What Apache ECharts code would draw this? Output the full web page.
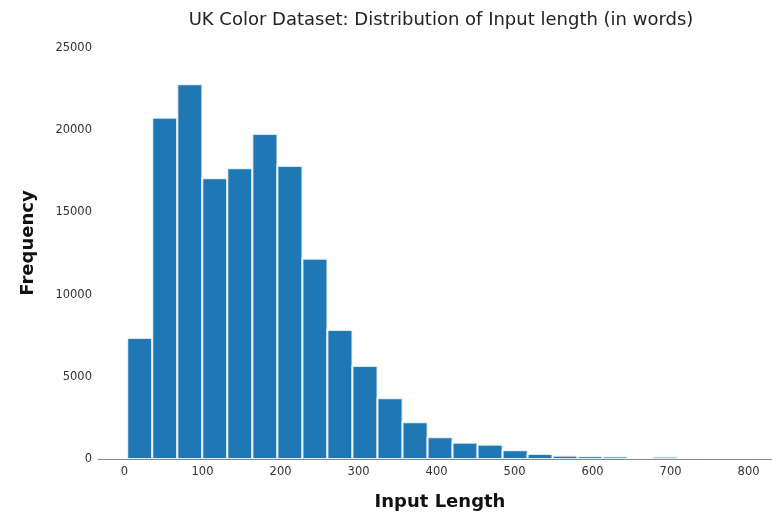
<!DOCTYPE html>
<html>
<head>
<meta charset="utf-8">
<script src="https://cdn.jsdelivr.net/npm/echarts@6/dist/echarts.min.js"></script>
<style>html,body{margin:0;padding:0;background:#fff;}#c{width:772px;height:516px;}</style>
</head>
<body>
<div id="c"></div>
<script>
// Histogram bin edges (words)
const binEdges = [3.5, 35.6, 67.7, 99.7, 131.8, 163.9, 196.0, 228.1, 260.1, 292.2, 324.3, 356.4, 388.5, 420.5, 452.6, 484.7, 516.8, 548.9, 580.9, 613.0, 645.1, 677.2, 709.3, 741.3, 773.4, 805.5];
// Frequencies per bin
const counts = [7360, 20760, 22790, 17075, 17680, 19770, 17820, 12185, 7850, 5660, 3690, 2230, 1320, 990, 870, 530, 300, 200, 160, 150, 20, 140, 10, 5, 5];
const xTicks = [0, 100, 200, 300, 400, 500, 600, 700, 800];

const titleText = 'UK Color Dataset: Distribution of Input length (in words)';
const xName = 'Input Length';
const yName = 'Frequency';

const data = counts.map((c, i) => [binEdges[i], binEdges[i + 1], c]);
const font = '"DejaVu Sans", sans-serif';

const chart = echarts.init(document.getElementById('c'), null, {renderer: 'canvas'});
chart.setOption({
  animation: false,
  backgroundColor: '#fff',
  title: {
    text: titleText,
    left: 436, top: 6, textAlign: 'center',
    textStyle: {fontFamily: font, fontSize: 18, fontWeight: 'normal', color: '#222'}
  },
  grid: {left: 98, right: 0, top: 48, bottom: 57},
  xAxis: {
    type: 'value', min: -34, max: 830, z: 10,
    axisLine: {show: true, lineStyle: {color: '#888', width: 1}},
    axisTick: {show: false},
    splitLine: {show: false},
    axisLabel: {customValues: xTicks, fontFamily: font, fontSize: 11.5, color: '#333', margin: 7}
  },
  yAxis: {
    type: 'value', min: 0, max: 25000, interval: 5000,
    axisLine: {show: false}, axisTick: {show: false}, splitLine: {show: false},
    axisLabel: {fontFamily: font, fontSize: 11.5, color: '#333', margin: 6, formatter: function (v) { return String(v); }}
  },
  graphic: [
    {type: 'text', x: 440, y: 502, style: {text: xName, font: 'bold 18px "DejaVu Sans", sans-serif', fill: '#111', textAlign: 'center', textVerticalAlign: 'middle'}},
    {type: 'text', x: 28, y: 243, rotation: Math.PI / 2, style: {text: yName, font: 'bold 18px "DejaVu Sans", sans-serif', fill: '#111', textAlign: 'center', textVerticalAlign: 'middle'}}
  ],
  series: [{
    type: 'custom',
    z: 2,
    data: data,
    encode: {x: [0, 1], y: 2},
    renderItem: function (params, api) {
      const p0 = api.coord([api.value(0), api.value(2)]);
      const p1 = api.coord([api.value(1), 0]);
      return {
        type: 'rect',
        shape: {x: p0[0], y: p0[1], width: p1[0] - p0[0], height: p1[1] - p0[1]},
        style: {fill: '#1f77b4', stroke: 'rgba(255,255,255,0.85)', lineWidth: 2}
      };
    }
  }]
});
</script>
</body>
</html>
